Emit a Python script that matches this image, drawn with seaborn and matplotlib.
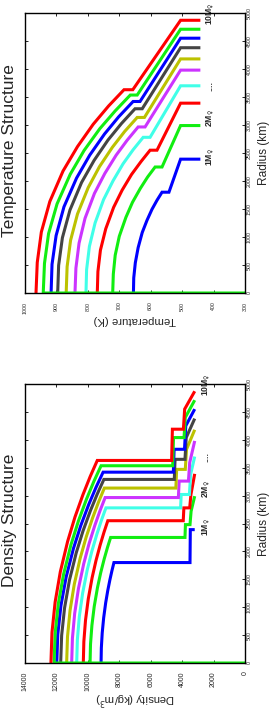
import matplotlib
matplotlib.use("Agg")
import matplotlib.pyplot as plt
import numpy as np
import pandas as pd
import seaborn as sns

# ---------------- data ----------------
planets = ["1M", "2M", "3M", "4M", "5M", "6M", "7M", "8M", "9M", "10M"]
colors = ["#0000ff", "#11ee11", "#ff0000", "#40ffe8", "#cc33ff",
          "#bcc200", "#444444", "#0000ff", "#11ee11", "#ff0000"]

# Density structure: radius (km) and density (kg/m^3)
dens_r_1 = [0, 270, 540, 810, 1080, 1296, 1494, 1656, 1800, 1800, 2390, 2390]
dens_v_1 = [9160, 9142, 9086, 8994, 8865, 8735, 8595, 8466, 8340, 3500, 3480, 3200]
dens_r_2 = [0, 338, 675, 1013, 1350, 1620, 1868, 2070, 2250, 2250, 2480, 2480, 2720, 2990]
dens_v_2 = [9860, 9831, 9742, 9595, 9388, 9181, 8957, 8752, 8550, 3820, 3790, 3500, 3430, 3200]
dens_r_3 = [0, 383, 765, 1148, 1530, 1836, 2117, 2346, 2550, 2550, 2780, 2780, 3020, 3390]
dens_v_3 = [10290, 10255, 10150, 9974, 9728, 9482, 9215, 8970, 8730, 3930, 3890, 3520, 3440, 3200]
dens_r_4 = [0, 417, 834, 1251, 1668, 2002, 2307, 2558, 2780, 2780, 3020, 3020, 3380, 3700]
dens_v_4 = [10710, 10668, 10543, 10333, 10040, 9747, 9428, 9136, 8850, 4100, 4060, 3540, 3460, 3200]
dens_r_5 = [0, 445, 890, 1334, 1779, 2135, 2461, 2728, 2965, 2965, 3260, 3260, 3590, 3980]
dens_v_5 = [11030, 10982, 10838, 10599, 10263, 9927, 9562, 9228, 8900, 4240, 4190, 3600, 3520, 3200]
dens_r_6 = [0, 470, 941, 1411, 1881, 2257, 2602, 2884, 3135, 3135, 3470, 3470, 3830, 4180]
dens_v_6 = [11350, 11296, 11134, 10864, 10486, 10107, 9696, 9320, 8950, 4400, 4350, 3800, 3720, 3200]
dens_r_7 = [0, 494, 987, 1481, 1974, 2369, 2731, 3027, 3290, 3290, 3650, 3650, 4040, 4380]
dens_v_7 = [11730, 11668, 11482, 11173, 10740, 10305, 9835, 9403, 8980, 4500, 4450, 3820, 3740, 3200]
dens_r_8 = [0, 513, 1026, 1539, 2052, 2462, 2839, 3146, 3420, 3420, 3830, 3830, 4250, 4550]
dens_v_8 = [11980, 11914, 11714, 11383, 10918, 10452, 9947, 9484, 9030, 4560, 4510, 3850, 3770, 3200]
dens_r_9 = [0, 0, 530, 1061, 1591, 2121, 2545, 2934, 3252, 3535, 3535, 4040, 4040, 4400, 4710]
dens_v_9 = [0, 12150, 12083, 11881, 11545, 11074, 10601, 10090, 9620, 9160, 4600, 4550, 3880, 3800, 3200]
dens_r_10 = [0, 545, 1089, 1634, 2178, 2614, 3013, 3340, 3630, 3630, 4190, 4190, 4550, 4870]
dens_v_10 = [12350, 12284, 12084, 11753, 11288, 10822, 10317, 9854, 9400, 4670, 4620, 3920, 3840, 3200]

# Temperature structure: radius (km) and temperature (K)
temp_r_1 = [0, 270, 540, 810, 1080, 1296, 1494, 1656, 1800, 1800, 2390, 2390]
temp_v_1 = [655, 654, 649, 640, 627, 612, 596, 580, 564, 542, 505, 442]
temp_r_2 = [0, 338, 675, 1013, 1350, 1620, 1868, 2070, 2250, 2250, 2990, 2990]
temp_v_2 = [721, 719, 713, 700, 679, 658, 633, 610, 586, 564, 505, 442]
temp_r_3 = [0, 383, 765, 1148, 1530, 1836, 2117, 2346, 2550, 2550, 3390, 3390]
temp_v_3 = [770, 768, 760, 743, 718, 691, 661, 631, 602, 580, 505, 442]
temp_r_4 = [0, 417, 834, 1251, 1668, 2002, 2307, 2558, 2780, 2780, 3700, 3700]
temp_v_4 = [806, 804, 795, 777, 750, 720, 688, 656, 624, 602, 505, 442]
temp_r_5 = [0, 445, 890, 1334, 1779, 2135, 2461, 2728, 2965, 2965, 3980, 3980]
temp_v_5 = [841, 838, 828, 809, 779, 746, 710, 675, 640, 618, 505, 442]
temp_r_6 = [0, 470, 941, 1411, 1881, 2257, 2602, 2884, 3135, 3135, 4180, 4180]
temp_v_6 = [869, 866, 855, 833, 799, 763, 722, 683, 643, 620, 505, 442]
temp_r_7 = [0, 494, 987, 1481, 1974, 2369, 2731, 3027, 3290, 3290, 4380, 4380]
temp_v_7 = [896, 893, 881, 857, 820, 780, 736, 693, 650, 627, 505, 442]
temp_r_8 = [0, 513, 1026, 1539, 2052, 2462, 2839, 3146, 3420, 3420, 4550, 4550]
temp_v_8 = [917, 914, 901, 876, 836, 794, 747, 702, 656, 634, 505, 442]
temp_r_9 = [0, 0, 530, 1061, 1591, 2121, 2545, 2934, 3252, 3535, 3535, 4710, 4710]
temp_v_9 = [0, 942, 938, 925, 898, 856, 812, 762, 713, 665, 643, 505, 442]
temp_r_10 = [0, 545, 1089, 1634, 2178, 2614, 3013, 3340, 3630, 3630, 4870, 4870]
temp_v_10 = [965, 961, 948, 921, 879, 833, 783, 734, 685, 657, 505, 442]

label_texts = ["1M$_{♀}$", "2M$_{♀}$", "....", "10M$_{♀}$"]
label_radius = [2430, 3120, 3700, 4990]

dens_ticks = [0, 2000, 4000, 6000, 8000, 10000, 12000, 14000]
temp_ticks = [300, 400, 500, 600, 700, 800, 900, 1000]
radius_ticks = [0, 500, 1000, 1500, 2000, 2500, 3000, 3500, 4000, 4500, 5000]

dens_r = [dens_r_1, dens_r_2, dens_r_3, dens_r_4, dens_r_5,
          dens_r_6, dens_r_7, dens_r_8, dens_r_9, dens_r_10]
dens_v = [dens_v_1, dens_v_2, dens_v_3, dens_v_4, dens_v_5,
          dens_v_6, dens_v_7, dens_v_8, dens_v_9, dens_v_10]
temp_r = [temp_r_1, temp_r_2, temp_r_3, temp_r_4, temp_r_5,
          temp_r_6, temp_r_7, temp_r_8, temp_r_9, temp_r_10]
temp_v = [temp_v_1, temp_v_2, temp_v_3, temp_v_4, temp_v_5,
          temp_v_6, temp_v_7, temp_v_8, temp_v_9, temp_v_10]


def long_frame(rs, vs):
    rows = []
    for p, r, v in zip(planets, rs, vs):
        for i, (ri, vi) in enumerate(zip(r, v)):
            rows.append({"planet": p, "radius": ri, "value": vi, "order": i})
    return pd.DataFrame(rows)


df_dens = long_frame(dens_r, dens_v)
df_temp = long_frame(temp_r, temp_v)

# ---------------- styling ----------------
sns.set_style("white")
plt.rcParams["font.family"] = ["Liberation Sans", "DejaVu Sans"]
plt.rcParams["mathtext.fontset"] = "dejavusans"

W, H = 274, 709
fig = plt.figure(figsize=(W / 100, H / 100), dpi=100)
fig.patch.set_facecolor("white")


def px_axes(left, top, right, bottom):
    return fig.add_axes([left / W, 1 - bottom / H, (right - left) / W, (bottom - top) / H])


ax_t = px_axes(25, 13, 245, 293)
ax_d = px_axes(25, 384, 245, 663)

palette = dict(zip(planets, colors))


def panel(ax, df, xlim, xticks, xtick_fs, title, xlabel, xlab_y, label_x):
    sns.lineplot(data=df, x="value", y="radius", hue="planet", hue_order=planets,
                 palette=palette, sort=False, estimator=None, units="planet",
                 legend=False, linewidth=2.2, ax=ax)
    for ln in ax.lines:
        ln.set_solid_joinstyle("miter")
        ln.set_solid_capstyle("butt")
    ax.set_xlim(*xlim)
    ax.set_ylim(0, 5000)
    ax.set_xticks(xticks)
    ax.set_yticks(radius_ticks)
    ax.set_xticklabels([str(t) for t in xticks])
    ax.set_yticklabels([str(t) for t in radius_ticks])
    ax.tick_params(axis="both", direction="in", length=2.2, width=0.6, color="black",
                   top=True, bottom=True, left=True, right=True)
    ax.tick_params(axis="x", labelrotation=90, labelsize=xtick_fs, pad=6.2)
    ax.tick_params(axis="y", labelleft=False, labelright=True, labelrotation=90,
                   labelsize=3.8, pad=1.2)
    for t in ax.get_yticklabels():
        t.set_va("center")
        t.set_ha("left")
    for t in ax.get_xticklabels():
        t.set_ha("center")
        t.set_va("top")
    for s in ax.spines.values():
        s.set_color("black")
        s.set_linewidth(1.0)
        s.set_visible(True)
    ax.set_xlabel("")
    ax.set_ylabel("")
    # axis labels (real text)
    ax.text(1.086, 0.5, "Radius (km)", transform=ax.transAxes, rotation=90,
            ha="center", va="center", fontsize=8.6)
    ax.text(0.5, xlab_y, xlabel, transform=ax.transAxes, rotation=180,
            ha="center", va="center", fontsize=8.2)
    ax.text(-0.07, 0.51, title, transform=ax.transAxes, rotation=90,
            ha="center", va="center", fontsize=12.5)
    for txt, rr in zip(label_texts, label_radius):
        ax.text(label_x, rr, txt, rotation=90, ha="center", va="center",
                fontsize=6.2, fontweight="bold", clip_on=False)


panel(ax_t, df_temp, (1000, 300), temp_ticks, 3.8, "Temperature Structure",
      "Temperature (K)", -0.096, 412)
panel(ax_d, df_dens, (14000, 0), dens_ticks, 5.0, "Density Structure",
      "Density (kg/m$^3$)", -0.128, 2500)

fig.savefig("out.png", dpi=100, facecolor="white")
